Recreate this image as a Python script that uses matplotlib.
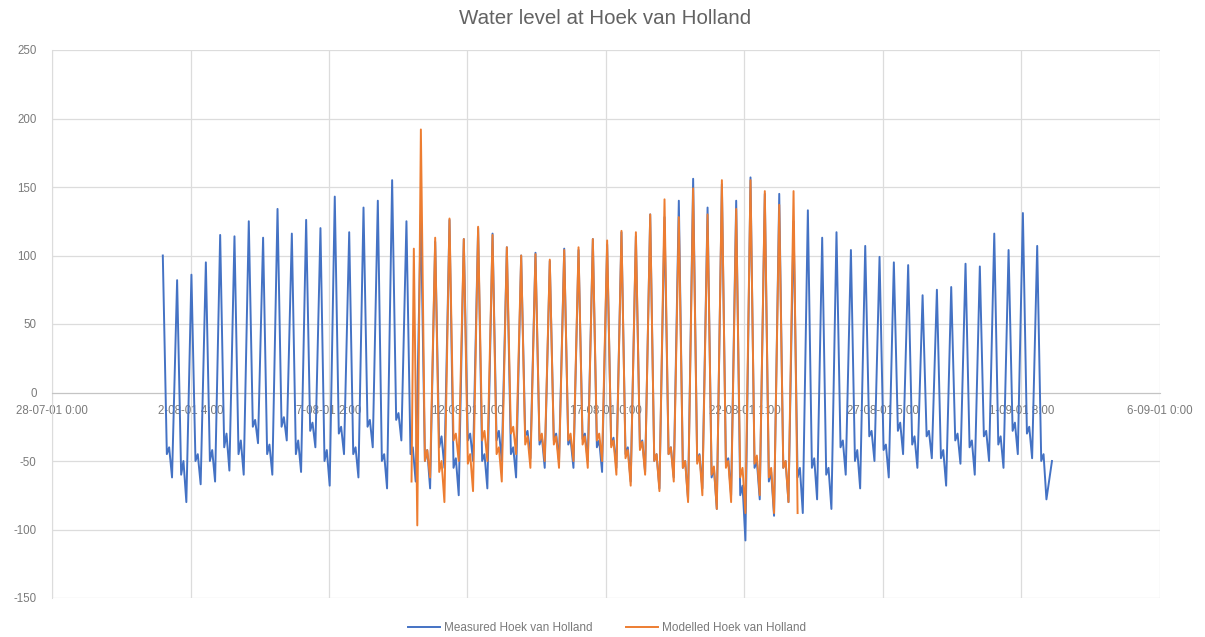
import numpy as np
import matplotlib.pyplot as plt

plt.rcParams['font.family'] = ['Liberation Sans', 'DejaVu Sans']

# Time axis: hours since 28-07-01 0:00
x_ticks_hours = [0, 120, 240, 360, 480, 600, 720, 840, 960]
x_tick_labels = ["28-07-01 0:00", "2-08-01 4:00", "7-08-01 2:00", "12-08-01 1:00",
                 "17-08-01 0:00", "22-08-01 1:00", "27-08-01 5:00", "1-09-01 8:00",
                 "6-09-01 0:00"]
y_ticks = [-150, -100, -50, 0, 50, 100, 150, 200, 250]

# Tide turning points (hours): high water, first low, agger, second low
hw_hours = [96.0, 108.4, 120.8, 133.3, 145.7, 158.1, 170.5, 182.9, 195.4, 207.8,
            220.2, 232.6, 245.0, 257.5, 269.9, 282.3, 294.7, 307.1, 319.6, 332.0,
            344.4, 356.8, 369.2, 381.7, 394.1, 406.5, 418.9, 431.3, 443.8, 456.2,
            468.6, 481.0, 493.4, 505.9, 518.3, 530.7, 543.1, 555.5, 568.0, 580.4,
            592.8, 605.2, 617.6, 630.1, 642.5, 654.9, 667.3, 679.7, 692.2, 704.6,
            717.0, 729.4, 741.8, 754.3, 766.7, 779.1, 791.5, 803.9, 816.4, 828.8,
            841.2, 853.6]
low1_hours = [99.5, 111.9, 124.3, 136.8, 149.2, 161.6, 174.0, 186.4, 198.9, 211.3,
              223.7, 236.1, 248.5, 261.0, 273.4, 285.8, 298.2, 310.6, 323.1, 335.5,
              347.9, 360.3, 372.7, 385.2, 397.6, 410.0, 422.4, 434.8, 447.3, 459.7,
              472.1, 484.5, 496.9, 509.4, 521.8, 534.2, 546.6, 559.0, 571.5, 583.9,
              596.3, 608.7, 621.1, 633.6, 646.0, 658.4, 670.8, 683.2, 695.7, 708.1,
              720.5, 732.9, 745.3, 757.8, 770.2, 782.6, 795.0, 807.4, 819.9, 832.3,
              844.7, 857.1]
agger_hours = [101.5, 113.9, 126.3, 138.8, 151.2, 163.6, 176.0, 188.4, 200.9, 213.3,
               225.7, 238.1, 250.5, 263.0, 275.4, 287.8, 300.2, 312.6, 325.1, 337.5,
               349.9, 362.3, 374.7, 387.2, 399.6, 412.0, 424.4, 436.8, 449.3, 461.7,
               474.1, 486.5, 498.9, 511.4, 523.8, 536.2, 548.6, 561.0, 573.5, 585.9,
               598.3, 610.7, 623.1, 635.6, 648.0, 660.4, 672.8, 685.2, 697.7, 710.1,
               722.5, 734.9, 747.3, 759.8, 772.2, 784.6, 797.0, 809.4, 821.9, 834.3,
               846.7, 859.1]
low2_hours = [104.0, 116.4, 128.8, 141.3, 153.7, 166.1, 178.5, 190.9, 203.4, 215.8,
              228.2, 240.6, 253.0, 265.5, 277.9, 290.3, 302.7, 315.1, 327.6, 340.0,
              352.4, 364.8, 377.2, 389.7, 402.1, 414.5, 426.9, 439.3, 451.8, 464.2,
              476.6, 489.0, 501.4, 513.9, 526.3, 538.7, 551.1, 563.5, 576.0, 588.4,
              600.8, 613.2, 625.6, 638.1, 650.5, 662.9, 675.3, 687.7, 700.2, 712.6,
              725.0, 737.4, 749.8, 762.3, 774.7, 787.1, 799.5, 811.9, 824.4, 836.8,
              849.2, 861.6]

# Measured water level (cm)
meas_hw = [100, 82, 86, 95, 115, 114, 125, 113, 134, 116,
           126, 120, 143, 117, 135, 140, 155, 125, 130, 110,
           126, 112, 120, 116, 106, 100, 102, 96, 105, 104,
           112, 108, 117, 114, 130, 128, 140, 156, 135, 152,
           140, 157, 145, 145, 125, 133, 113, 117, 104, 107,
           99, 95, 93, 71, 75, 77, 94, 92, 116, 104,
           131, 107]
meas_low1 = [-45, -60, -50, -50, -40, -45, -25, -45, -25, -45,
             -28, -50, -30, -45, -25, -50, -20, -45, -50, -40,
             -55, -35, -50, -35, -45, -32, -38, -35, -38, -34,
             -40, -38, -45, -40, -50, -45, -55, -50, -62, -52,
             -75, -55, -65, -55, -62, -55, -60, -40, -50, -32,
             -42, -28, -38, -32, -48, -35, -40, -32, -38, -28,
             -30, -50]
meas_agger = [-40, -50, -45, -42, -30, -35, -20, -38, -18, -35,
              -22, -42, -25, -40, -20, -45, -15, -40, -42, -32,
              -48, -30, -45, -28, -40, -28, -32, -30, -34, -30,
              -35, -33, -40, -35, -45, -40, -50, -45, -55, -48,
              -68, -50, -58, -50, -55, -48, -55, -35, -42, -28,
              -38, -22, -32, -28, -42, -30, -35, -28, -32, -22,
              -25, -45]
meas_low2 = [-62, -80, -67, -65, -57, -60, -37, -60, -35, -58,
             -40, -68, -45, -62, -40, -70, -35, -65, -70, -55,
             -75, -50, -70, -50, -62, -48, -55, -50, -55, -50,
             -58, -55, -65, -58, -70, -62, -78, -70, -85, -75,
             -108, -78, -90, -80, -88, -78, -85, -60, -70, -50,
             -62, -45, -55, -48, -68, -52, -60, -50, -55, -45,
             -48, -78]
meas_end_hours = [866.4]
meas_end_level = [-50]

# Modelled water level (cm), tides 18..44 of the measured record
mod_first_tide = 18
mod_start_hours = [311.5, 313.5, 316.5]
mod_start_level = [-65, 105, -97]
mod_hw = [192, 113, 127, 112, 121, 115, 106, 100, 101, 97,
          104, 106, 112, 111, 118, 117, 130, 141, 128, 149,
          130, 155, 134, 155, 147, 137, 147]
mod_low1 = [-50, -58, -35, -52, -35, -45, -30, -38, -35, -38,
            -35, -38, -35, -40, -48, -42, -50, -45, -55, -52,
            -60, -55, -62, -52, -62, -55, -88]
mod_agger = [-42, -50, -30, -45, -28, -40, -25, -32, -30, -32,
             -30, -32, -30, -35, -42, -36, -45, -40, -50, -46,
             -54, -50, -55, -46, -55, -50, np.nan]
mod_low2 = [-62, -80, -50, -72, -50, -65, -45, -55, -50, -55,
            -50, -55, -50, -60, -68, -60, -72, -65, -80, -75,
            -85, -80, -88, -75, -88, -80, np.nan]


def tide_path(first, hw, low1, agger, low2):
    t, y = [], []
    for i in range(len(hw)):
        k = first + i
        for tt, yy in ((hw_hours[k], hw[i]), (low1_hours[k], low1[i]),
                       (agger_hours[k], agger[i]), (low2_hours[k], low2[i])):
            if not np.isnan(yy):
                t.append(tt)
                y.append(yy)
    return t, y


mt, my = tide_path(0, meas_hw, meas_low1, meas_agger, meas_low2)
mt += meas_end_hours
my += meas_end_level

ot, oy = tide_path(mod_first_tide, mod_hw, mod_low1, mod_agger, mod_low2)
ot = mod_start_hours + ot
oy = mod_start_level + oy

fig = plt.figure(figsize=(12.05, 6.37), dpi=100)
ax = fig.add_axes([52 / 1205, 1 - 598 / 637, (1160 - 52) / 1205, (598 - 50) / 637])

ax.plot(mt, my, color='#4472C4', lw=1.4, label='Measured Hoek van Holland', zorder=3)
ax.plot(ot, oy, color='#ED7D31', lw=1.4, label='Modelled Hoek van Holland', zorder=4)

ax.set_xlim(0, 960)
ax.set_ylim(-150, 250)
ax.set_xticks(x_ticks_hours)
ax.set_xticklabels(x_tick_labels)
ax.set_yticks(y_ticks)
ax.set_yticklabels([str(v) for v in y_ticks])

ax.grid(True, color='#DCDCDC', lw=0.9)
ax.set_axisbelow(True)
for side in ('top', 'right'):
    ax.spines[side].set_visible(False)
ax.spines['left'].set_color('#DCDCDC')
ax.spines['bottom'].set_position(('data', 0))
ax.spines['bottom'].set_color('#C4C4C4')

ax.tick_params(axis='x', length=0, labelsize=8.3, colors='#7a7a7a', pad=9)
ax.tick_params(axis='y', length=0, labelsize=8.3, colors='#7a7a7a', pad=11)

fig.text(605 / 1205, 1 - 18 / 637, 'Water level at Hoek van Holland',
         ha='center', va='center', fontsize=14.8, color='#636363')

fig.legend(loc='center', bbox_to_anchor=(607 / 1205, 1 - 628 / 637), ncol=2,
           frameon=False, fontsize=8.5, handlelength=2.7, handletextpad=0.3,
           columnspacing=2.9, labelcolor='#7a7a7a')

fig.savefig('out.png', dpi=100, facecolor='white')
